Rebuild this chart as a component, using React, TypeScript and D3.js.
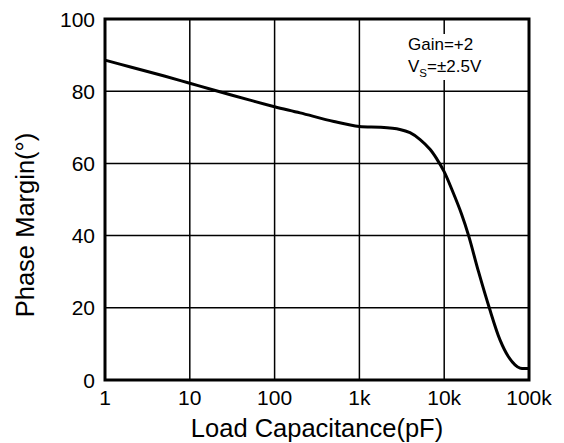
import React from "react";
import * as d3 from "d3";

const capacitance = [1, 2, 5, 10, 20, 50, 100, 200, 500, 1000, 1750, 3000, 3950, 5200, 6800, 8200, 9950, 12700, 16000, 19400, 25400, 34000, 45500, 57000, 68400, 78400, 100000];
const phaseMargin = [88.6, 86.7, 84.2, 82.2, 80.2, 77.6, 75.7, 74.0, 71.6, 70.2, 70.0, 69.4, 68.5, 66.6, 63.9, 61.2, 57.8, 52.0, 46.0, 40, 30, 20, 11.1, 6.5, 4.2, 3.3, 3.2];
const xTicks = [1, 10, 100, 1000, 10000, 100000];
const xTickLabels = ["1", "10", "100", "1k", "10k", "100k"];
const yTicks = [0, 20, 40, 60, 80, 100];

const W = 564, H = 443;
const L = 105, R = 529, T = 19, B = 380;
const FONT = "'Liberation Sans', Arial, sans-serif";

export default function App() {
  const x = d3.scaleLog().domain([1, 100000]).range([L, R]);
  const y = d3.scaleLinear().domain([0, 100]).range([B, T]);
  const pts: [number, number][] = capacitance.map((c, i) => [c, phaseMargin[i]]);
  const line = d3
    .line<[number, number]>()
    .x((d) => x(d[0]))
    .y((d) => y(d[1]))
    .curve(d3.curveCatmullRom.alpha(0.5));

  return (
    <svg width={W} height={H} style={{ position: "absolute", left: 0, top: 0, background: "#fff" }} fontFamily={FONT}>
      <rect x={0} y={0} width={W} height={H} fill="#fff" />
      {xTicks.map((t) => (
        <line key={"gx" + t} x1={x(t)} x2={x(t)} y1={T} y2={B} stroke="#000" strokeWidth={1.5} />
      ))}
      {yTicks.map((t) => (
        <line key={"gy" + t} x1={L} x2={R} y1={y(t)} y2={y(t)} stroke="#000" strokeWidth={1.5} />
      ))}
      <path d={line(pts) || ""} fill="none" stroke="#000" strokeWidth={3} />
      <rect x={L} y={T} width={R - L} height={B - T} fill="none" stroke="#000" strokeWidth={3} />
      {xTicks.map((t, i) => (
        <text key={"tx" + t} x={x(t)} y={405} textAnchor="middle" fontSize={21} fill="#000">
          {xTickLabels[i]}
        </text>
      ))}
      {yTicks.map((t) => (
        <text key={"ty" + t} x={95} y={y(t) + 7.5} textAnchor="end" fontSize={21} fill="#000">
          {t}
        </text>
      ))}
      <text x={(L + R) / 2} y={437} textAnchor="middle" fontSize={25.5} fill="#000">
        Load Capacitance(pF)
      </text>
      <text transform={`translate(34,225) rotate(-90)`} textAnchor="middle" fontSize={25.5} fill="#000">
        Phase Margin(°)
      </text>
      <rect x={405} y={34} width={78} height={46} fill="#fff" />
      <text x={408} y={49.5} fontSize={17} fill="#000">Gain=+2</text>
      <text x={408} y={72} fontSize={17} fill="#000">
        V<tspan fontSize={11.5} dy={5}>S</tspan>
        <tspan dy={-5}>=±2.5V</tspan>
      </text>
    </svg>
  );
}
